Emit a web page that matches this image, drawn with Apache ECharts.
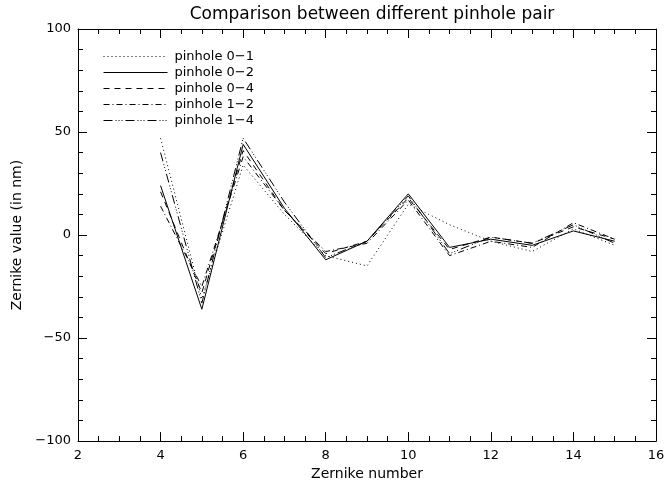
<!DOCTYPE html>
<html><head><meta charset="utf-8">
<script src="https://cdn.jsdelivr.net/npm/echarts@6/dist/echarts.min.js"></script>
<style>html,body{margin:0;padding:0;background:#fff}#c{width:670px;height:486px}</style>
</head><body><div id="c"></div>
<script>
const zernikeNumbers = [4,5,6,7,8,9,10,11,12,13,14,15];
const seriesNames = ['pinhole 0\u22121','pinhole 0\u22122','pinhole 0\u22124','pinhole 1\u22122','pinhole 1\u22124'];
const pinhole01 = [47,-31,34,10,-10,-15,15,5,-3,-8,3,-5];
const pinhole02 = [24,-36,44,13,-12,-3,20,-6,-2,-5,2,-3];
const pinhole04 = [21,-28,41,12,-9,-3,18,-7,-1,-4,4,-2];
const pinhole12 = [14,-25,38,12,-8,-4,17,-10,-3,-6,6,-2];
const pinhole14 = [40,-33,47,16,-11,-3,19,-9,-1,-4,5,-4];
const lineTypes = [[1,3],'solid',[6,5],[6,3,1,3],[9,3,1,2,1,2,1,3]];
const allValues = [pinhole01,pinhole02,pinhole04,pinhole12,pinhole14];

const font = 'DejaVu Sans, Verdana, sans-serif';
const chart = echarts.init(document.getElementById('c'), null, {renderer:'canvas'});
const minusFmt = v => String(v).replace('-', '\u2212');
const axisLine = {show:true,onZero:false,lineStyle:{color:'#000',width:1}};
const axisTick = {show:true,inside:true,length:9,lineStyle:{color:'#000'}};
chart.setOption({
  animation:false,
  backgroundColor:'#fff',
  title:{text:'Comparison between different pinhole pair',left:367,textAlign:'center',top:1,
    textStyle:{fontFamily:font,fontSize:17,fontWeight:'normal',color:'#000'}},
  legend:{orient:'vertical',left:98,top:44.5,itemWidth:64,itemHeight:8,itemGap:2,
    itemStyle:{opacity:0},
    lineStyle:{width:1},
    textStyle:{fontFamily:font,fontSize:13,lineHeight:14,color:'#000',padding:[0,0,0,2]},
    data:seriesNames},
  grid:{left:78,right:14,top:29,bottom:44},
  xAxis:[
    {type:'value',min:2,max:16,interval:2,position:'bottom',
      axisLine:axisLine,axisTick:axisTick,splitLine:{show:false},
      minorTick:{show:true,splitNumber:4,length:5,lineStyle:{color:'#000'}},
      axisLabel:{color:'#000',fontFamily:font,fontSize:13,margin:8,formatter:minusFmt},
      name:'Zernike number',nameLocation:'middle',nameGap:25,
      nameTextStyle:{color:'#000',fontFamily:font,fontSize:14}},
    {type:'value',min:2,max:16,interval:2,position:'top',
      axisLine:axisLine,axisTick:axisTick,splitLine:{show:false},
      minorTick:{show:true,splitNumber:4,length:5,lineStyle:{color:'#000'}},
      axisLabel:{show:false}}
  ],
  yAxis:[
    {type:'value',min:-100,max:100,interval:50,position:'left',
      axisLine:axisLine,axisTick:axisTick,splitLine:{show:false},
      minorTick:{show:true,splitNumber:5,length:5,lineStyle:{color:'#000'}},
      axisLabel:{color:'#000',fontFamily:font,fontSize:13,margin:7,formatter:minusFmt},
      name:'Zernike value (in nm)',nameLocation:'middle',nameGap:53,nameRotate:90,
      nameTextStyle:{color:'#000',fontFamily:font,fontSize:14}},
    {type:'value',min:-100,max:100,interval:50,position:'right',
      axisLine:axisLine,axisTick:axisTick,splitLine:{show:false},
      minorTick:{show:true,splitNumber:5,length:5,lineStyle:{color:'#000'}},
      axisLabel:{show:false}}
  ],
  series: seriesNames.map((n,i)=>({
    name:n,type:'line',xAxisIndex:0,yAxisIndex:0,symbol:'none',
    itemStyle:{color:'#000'},
    lineStyle:{color:'#000',width:1,type:lineTypes[i]},
    data: zernikeNumbers.map((x,j)=>[x, allValues[i][j]])
  }))
});
</script></body></html>
